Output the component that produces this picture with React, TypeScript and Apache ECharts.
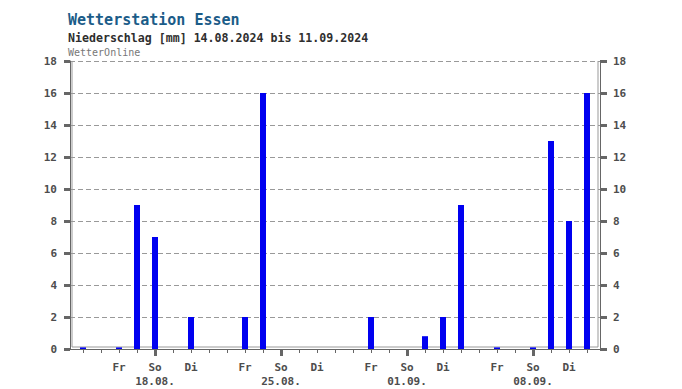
import React, { useEffect, useRef } from "react";
import * as echarts from "echarts";

const days = [
  "14.08.", "15.08.", "16.08.", "17.08.", "18.08.", "19.08.", "20.08.",
  "21.08.", "22.08.", "23.08.", "24.08.", "25.08.", "26.08.", "27.08.",
  "28.08.", "29.08.", "30.08.", "31.08.", "01.09.", "02.09.", "03.09.",
  "04.09.", "05.09.", "06.09.", "07.09.", "08.09.", "09.09.", "10.09.", "11.09.",
];
const weekdays = [
  "Mi", "Do", "Fr", "Sa", "So", "Mo", "Di",
  "Mi", "Do", "Fr", "Sa", "So", "Mo", "Di",
  "Mi", "Do", "Fr", "Sa", "So", "Mo", "Di",
  "Mi", "Do", "Fr", "Sa", "So", "Mo", "Di", "Mi",
];
const precipitation = [
  0.1, 0, 0.1, 9, 7, 0, 2,
  0, 0, 2, 16, 0, 0, 0,
  0, 0, 2, 0, 0, 0.8, 2,
  9, 0, 0.1, 0, 0.1, 13, 8, 16,
];
const labeledDays = [2, 4, 6, 9, 11, 13, 16, 18, 20, 23, 25, 27];
const sundays = [4, 11, 18, 25];

const MONO = '"DejaVu Sans Mono", "Liberation Mono", monospace';

export default function App() {
  const ref = useRef<HTMLDivElement>(null);
  useEffect(() => {
    if (!ref.current) return;
    const chart = echarts.init(ref.current, null, { renderer: "svg" });
    const allDays = days.map((_, i) => i);
    const pad = 0.5 + 4 / 18;
    const labelStyle = {
      fontFamily: MONO,
      fontSize: 11,
      fontWeight: "bold" as const,
      color: "#4d4d4d",
    };
    chart.setOption({
      animation: false,
      backgroundColor: "#fff",
      grid: { left: 70, right: 82, top: 61, bottom: 40 },
      xAxis: [
        {
          type: "value",
          min: -pad,
          max: days.length - 1 + pad,
          axisLine: { show: true, onZero: false, lineStyle: { color: "#666", width: 1 } },
          axisTick: {
            show: true,
            customValues: allDays,
            length: 4,
            lineStyle: { color: "#666", width: 1 },
          },
          axisLabel: {
            show: true,
            customValues: labeledDays,
            margin: 11,
            lineHeight: 14,
            ...labelStyle,
            formatter: (v: number) => {
              const i = Math.round(v);
              return weekdays[i] === "So" ? `${weekdays[i]}\n${days[i]}` : weekdays[i];
            },
          },
          splitLine: { show: false },
        },
        {
          type: "value",
          position: "bottom",
          min: -pad,
          max: days.length - 1 + pad,
          axisLine: { show: false, onZero: false },
          axisTick: {
            show: true,
            customValues: sundays,
            length: 7,
            lineStyle: { color: "#666", width: 3 },
          },
          axisLabel: { show: false },
          splitLine: { show: false },
        },
      ],
      yAxis: [
        {
          type: "value",
          position: "left",
          min: 0,
          max: 18,
          interval: 2,
          axisLine: { show: true, onZero: false, lineStyle: { color: "#666", width: 1 } },
          axisTick: { show: true, length: 6, lineStyle: { color: "#666", width: 3 } },
          axisLabel: { margin: 13, ...labelStyle },
          splitLine: {
            show: true,
            lineStyle: { color: "#999", type: [5, 3], width: 1 },
          },
        },
        {
          type: "value",
          position: "right",
          min: 0,
          max: 18,
          interval: 2,
          axisLine: { show: true, onZero: false, lineStyle: { color: "#666", width: 1 } },
          axisTick: { show: true, length: 7, lineStyle: { color: "#666", width: 3 } },
          axisLabel: { margin: 13, ...labelStyle },
          splitLine: { show: false },
        },
      ],
      series: [
        {
          type: "bar",
          xAxisIndex: 0,
          yAxisIndex: 0,
          barWidth: 6,
          data: precipitation.map((v, i) => [i, v]),
          itemStyle: { color: "#0000f0" },
          silent: true,
        },
      ],
      graphic: [
        {
          type: "line",
          shape: { x1: 72, y1: 61, x2: 72, y2: 347 },
          style: { stroke: "#999", lineWidth: 1 },
          silent: true,
        },
        {
          type: "line",
          shape: { x1: 72, y1: 347, x2: 598, y2: 347 },
          style: { stroke: "#999", lineWidth: 1 },
          silent: true,
        },
        {
          type: "line",
          shape: { x1: 598, y1: 61, x2: 598, y2: 347 },
          style: { stroke: "#999", lineWidth: 1 },
          silent: true,
        },
        {
          type: "text",
          left: 68,
          top: 12,
          style: {
            text: "Wetterstation Essen",
            font: `bold 15px ${MONO}`,
            fill: "#1b5c88",
          },
        },
        {
          type: "text",
          left: 68,
          top: 32,
          style: {
            text: "Niederschlag [mm] 14.08.2024 bis 11.09.2024",
            font: `bold 11.6px ${MONO}`,
            fill: "#2e2e2e",
          },
        },
        {
          type: "text",
          left: 68,
          top: 47,
          style: {
            text: "WetterOnline",
            font: `10px ${MONO}`,
            fill: "#777",
          },
        },
      ],
    });
    return () => chart.dispose();
  }, []);
  return (
    <div
      ref={ref}
      style={{ position: "fixed", left: 0, top: 0, width: 682, height: 389, background: "#fff" }}
    />
  );
}
